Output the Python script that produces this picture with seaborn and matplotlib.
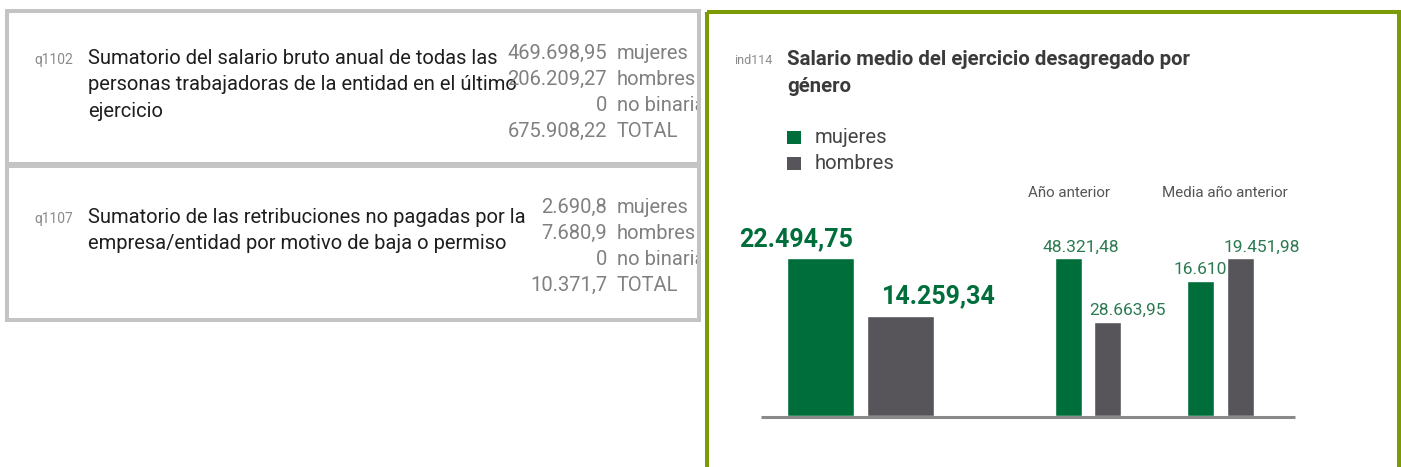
import matplotlib
matplotlib.use("Agg")
import matplotlib.pyplot as plt
from matplotlib.patches import Rectangle
import pandas as pd
import seaborn as sns

# datos
generos = ["mujeres", "hombres"]
grupos = ["Ejercicio", "Año anterior", "Media año anterior"]
salario_mujeres = [22494.75, 48321.48, 16610]
salario_hombres = [14259.34, 28663.95, 19451.98]

titulo = ["Salario medio del ejercicio desagregado por", "género"]

etiquetas_q = ["mujeres", "hombres", "no binaria", "TOTAL"]
q1102_texto = ["Sumatorio del salario bruto anual de todas las",
               "personas trabajadoras de la entidad en el último",
               "ejercicio"]
q1102_valores = [469698.95, 206209.27, 0, 675908.22]
q1107_texto = ["Sumatorio de las retribuciones no pagadas por la",
               "empresa/entidad por motivo de baja o permiso"]
q1107_valores = [2690.8, 7680.9, 0, 10371.7]

VERDE = "#006e3b"
GRIS = "#58555a"


def fmt(v):
    s = f"{v:,.2f}".replace(",", "X").replace(".", ",").replace("X", ".")
    return s.rstrip("0").rstrip(",")


sns.set_theme(style="white")
plt.rcParams["font.family"] = ["Roboto", "DejaVu Sans"]

fig = plt.figure(figsize=(14.01, 4.67), dpi=100)
bg = fig.add_axes([0, 0, 1, 1])
bg.set_xlim(0, 1401)
bg.set_ylim(467, 0)
bg.axis("off")

# cajas de la izquierda
cajas = [(11, q1102_texto, q1102_valores, "q1102", [64, 90.5, 117], [59, 85, 111, 137]),
         (166, q1107_texto, q1107_valores, "q1107", [223, 249], [213, 239, 265, 291])]
for top, lineas, valores, codigo, y_txt, y_val in cajas:
    h = 153 if top == 11 else 154
    bg.add_patch(Rectangle((7, top), 692, h, fill=False, ec="#c4c4c4", lw=2.9))
    clip = Rectangle((7, top), 690, h, transform=bg.transData, fill=False, lw=0)
    bg.text(34, y_txt[0], codigo, fontsize=10, color="#8a8a8a", va="baseline")
    for y, linea in zip(y_txt, lineas):
        bg.text(88, y, linea, fontsize=14.5, color="#1e1e1e", va="baseline")
    for y, v, et in zip(y_val, valores, etiquetas_q):
        bg.text(607, y, fmt(v), fontsize=14.5, color="#808080", va="baseline", ha="right")
        t = bg.text(617, y, et, fontsize=14.5, color="#808080", va="baseline", clip_on=True)
        t.set_clip_path(clip)

# panel derecho
bg.add_patch(Rectangle((707, 12), 692, 480, fill=False, ec="#7b9a05", lw=2.9, clip_on=False))
bg.text(734, 64, "ind114", fontsize=9, color="#8a8a8a", va="baseline")
bg.text(787, 65, titulo[0], fontsize=14.7, fontweight="bold", color="#3a3a3a", va="baseline")
bg.text(787, 92, titulo[1], fontsize=14.7, fontweight="bold", color="#3a3a3a", va="baseline")

for (y, g), c in zip([(131, generos[0]), (157, generos[1])], [VERDE, GRIS]):
    bg.add_patch(Rectangle((787, y), 14, 13, color=c, lw=0))
    bg.text(815, y + 12, g, fontsize=14.6, color="#444444", va="baseline")

bg.text(1069, 197, grupos[1], fontsize=10.9, color="#555555", ha="center", va="baseline")
bg.text(1225, 197, grupos[2], fontsize=10.9, color="#555555", ha="center", va="baseline")

bg.plot([761, 1295], [416.5, 416.5], color="#8a8a8a", lw=2.2, solid_capstyle="butt")

# barras: cada grupo con su propia escala
geometria = [(787, 934, 0.84), (1055, 1121, 0.68), (1187, 1254, 0.675)]
# desplazamientos de etiquetas en pixeles (dx, dy) para mujeres y hombres
desplaz = [((-24, 12), (38, 13)), ((12, 6), (20, 7)), ((0, 7), (21, 6))]
negrita = [True, False, False]

H_FIG = 467
for i, (x0, x1, w) in enumerate(geometria):
    ax = fig.add_axes([x0 / 1401, 1 - 416 / H_FIG, (x1 - x0) / 1401, 158 / H_FIG])
    df = pd.DataFrame({"genero": generos, "valor": [salario_mujeres[i], salario_hombres[i]]})
    sns.barplot(data=df, x="genero", y="valor", hue="genero", order=generos,
                hue_order=generos, palette=[VERDE, GRIS], width=w, saturation=1,
                legend=False, ax=ax)
    for p in ax.patches:
        p.set_zorder(4)
    ax.set_xlim(-w / 2, 1 + w / 2)
    ax.set_ylim(0, df["valor"].max())
    ax.axis("off")
    for j, v in enumerate(df["valor"]):
        dx, dy = desplaz[i][j]
        ax.annotate(fmt(v), (j, v), xytext=(dx, dy), textcoords="offset pixels",
                    ha="center", va="baseline", annotation_clip=False, zorder=3,
                    fontsize=18 if negrita[i] else 12.5,
                    fontweight="bold" if negrita[i] else "normal",
                    color=VERDE if negrita[i] else "#2b7a50")

fig.savefig("out.png", dpi=100)
